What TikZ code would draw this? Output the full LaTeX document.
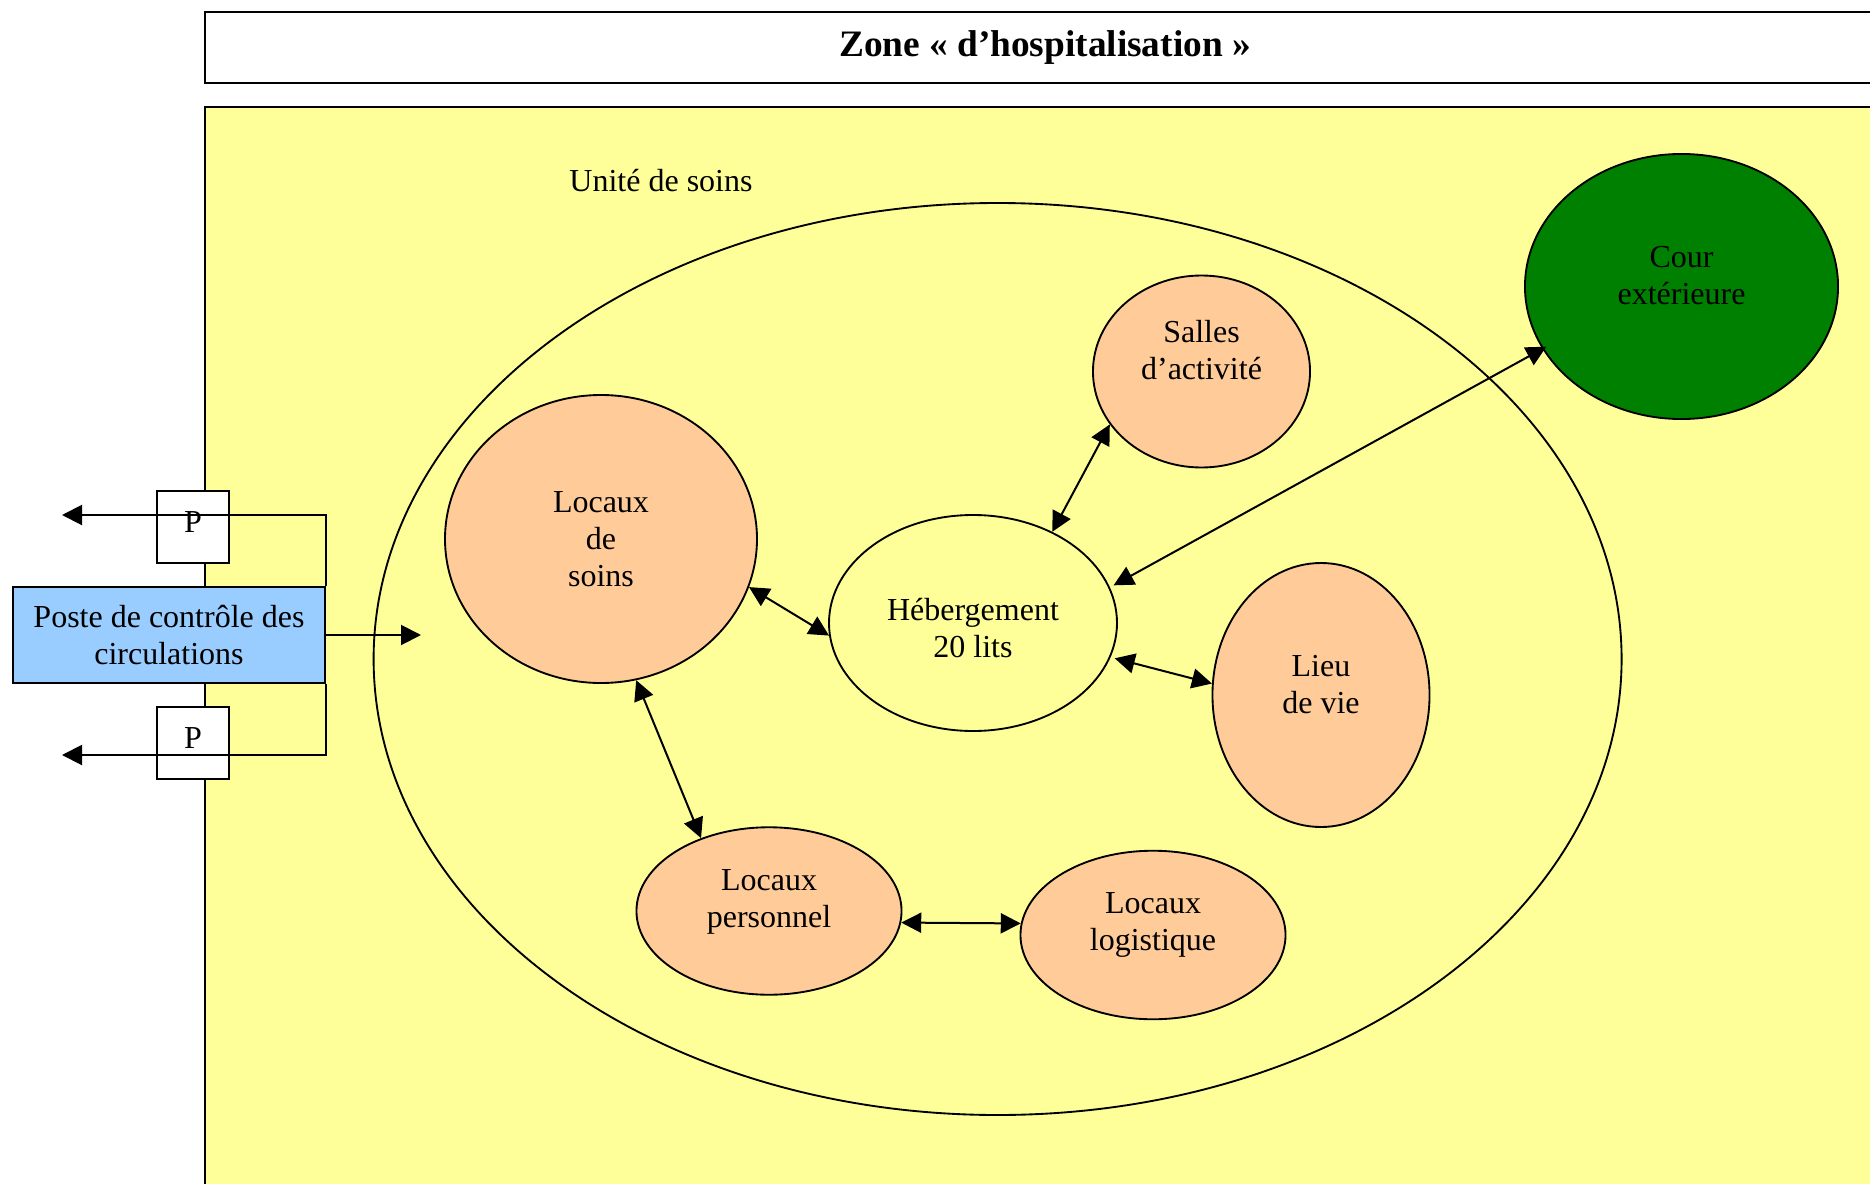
\documentclass[tikz,border=0pt]{standalone}
\usepackage{fontspec}
\setmainfont{Liberation Serif}
\usetikzlibrary{shapes.geometric,arrows.meta,calc}
\definecolor{zoneyellow}{HTML}{FFFF99}
\definecolor{roompeach}{HTML}{FFCC99}
\definecolor{postblue}{HTML}{99CCFF}
\definecolor{yardgreen}{HTML}{008000}
\begin{document}
\begin{tikzpicture}[x=0.375pt,y=-0.375pt,
  every node/.style={font=\fontsize{12}{13.8}\selectfont},
  line/.style={line width=0.75pt},
  tip/.style={-{Triangle[length=7.5pt,width=7.5pt]}},
  both/.style={{Triangle[length=7.5pt,width=7.5pt]}-{Triangle[length=7.5pt,width=7.5pt]}},
  room/.style={ellipse, draw, line width=0.7pt, inner sep=0pt, fill=roompeach},
  txt/.style={align=center, inner sep=0pt},
  pbox/.style={rectangle, draw, line width=0.75pt, fill=white, minimum width=27pt, minimum height=27pt, inner sep=0pt},
]
\useasboundingbox (0,0) rectangle (1870,1184);
\clip (0,0) rectangle (1870,1184);
\fill[white] (0,0) rectangle (1870,1184);

% hospitalisation zone and its heading
\filldraw[fill=zoneyellow, draw=black, line width=0.8pt] (205,107) rectangle (1900,1210);
\node[draw, line width=0.8pt, fill=white, minimum width=630pt, minimum height=26.6pt, inner sep=0pt,
      font=\fontsize{14}{16}\selectfont\bfseries] (title) at (1045,47.5) {Zone « d’hospitalisation »};

% care unit
\node[ellipse, draw, line width=0.7pt, inner sep=0pt, minimum width=468pt, minimum height=342pt] (unit) at (997.6,659) {};
\node (unitlbl) at (661,181) {Unité de soins};

% rooms
\node[room, fill=yardgreen, minimum width=117.4pt, minimum height=99.4pt,
      label={[txt, yshift=4pt]center:Cour\\extérieure}] (cour) at (1681.5,286.5) {};
\node[room, minimum width=81.4pt, minimum height=72pt,
      label={[txt, yshift=8pt]center:Salles\\d’activité}] (salles) at (1201.5,371.5) {};
\node[room, minimum width=117pt, minimum height=108pt,
      label={[txt]center:Locaux\\de\\soins}] (soins) at (601,539) {};
\node[room, fill=zoneyellow, minimum width=108pt, minimum height=81pt,
      label={[txt, yshift=-2pt]center:Hébergement\\20 lits}] (heb) at (973,623) {};
\node[room, minimum width=81.4pt, minimum height=99pt,
      label={[txt, yshift=4pt]center:Lieu\\de vie}] (lieu) at (1321,695) {};
\node[room, minimum width=99.4pt, minimum height=62.8pt,
      label={[txt, yshift=3.5pt]center:Locaux\\personnel}] (pers) at (769,911) {};
\node[room, minimum width=99.4pt, minimum height=63.2pt,
      label={[txt, yshift=3.8pt]center:Locaux\\logistique}] (logi) at (1153,935) {};

% links between rooms
\draw[line,both] (soins.-18) -- (heb.185);
\draw[line,both] (heb.49) -- (salles.210);
\draw[line,both] ($(heb.center)!1.03!(heb.15)$) -- ($(cour.center)!0.97!(cour.204)$);
\draw[line,both] ($(heb.center)!1.03!(heb.-14)$) -- (lieu.174);
\draw[line,both] (soins.-76) -- (pers.133);
\draw[line,both] (pers.-5) -- (logi.175);

% control post and gates
\node[rectangle, draw, line width=0.75pt, fill=postblue, minimum width=117pt, minimum height=36pt,
      inner sep=0pt, align=center] (poste) at (169,635) {Poste de contrôle des\\circulations};
\node[pbox, label={[inner sep=0pt, yshift=2pt]center:P}] (p1) at (193,527) {};
\node[pbox, label={[inner sep=0pt, yshift=2pt]center:P}] (p2) at (193,743) {};
\coordinate (out1) at (62,515);
\coordinate (out2) at (62,755);
\coordinate (entry) at (421,635);
\draw[line,tip] (poste.north east) |- (out1);
\draw[line,tip] (poste.south east) |- (out2);
\draw[line,tip] (poste.east) -- (entry);
\end{tikzpicture}
\end{document}
